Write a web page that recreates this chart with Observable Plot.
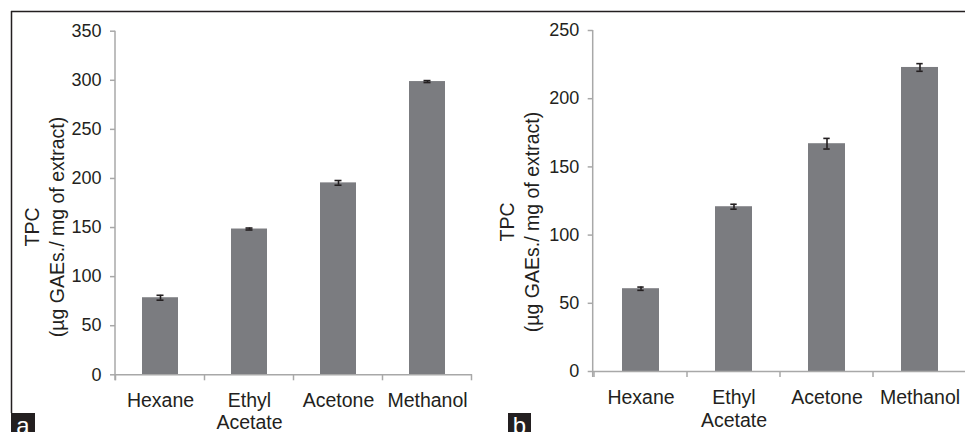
<!DOCTYPE html>
<html>
<head>
<meta charset="utf-8">
<script src="https://cdn.jsdelivr.net/npm/d3@7"></script>
<script src="https://cdn.jsdelivr.net/npm/@observablehq/plot@0.6"></script>
<style>
  html, body { margin: 0; padding: 0; background: #fff; }
  #wrap { position: relative; width: 965px; height: 432px; overflow: hidden; background: #fff; font-family: "Liberation Sans", Arial, sans-serif; }
  #wrap > svg, #wrap > figure { position: absolute; top: 0; margin: 0; }
  .tag { position: absolute; top: 413px; height: 19px; background: #231f20; color: #fff; font-size: 24px; line-height: 19px; overflow: hidden; font-family: "Liberation Sans", Arial, sans-serif; }
  .tag span { position: relative; top: 3px; display: block; text-align: center; }
</style>
</head>
<body>
<div id="wrap"></div>
<script>
// ---- data ----
const categories = ["Hexane", "Ethyl Acetate", "Acetone", "Methanol"];
const tickLabels = ["Hexane", "Ethyl\nAcetate", "Acetone", "Methanol"];
const tpcA = [78.5, 148.5, 195.5, 298.7];
const errA = [2.5, 1.0, 2.4, 1.0];
const tpcB = [60.7, 120.8, 167.0, 222.9];
const errB = [1.2, 1.8, 3.9, 2.8];
const yTicksA = [0, 50, 100, 150, 200, 250, 300, 350];
const yTicksB = [0, 50, 100, 150, 200, 250];
const yTitle = "TPC\n(µg GAEs./ mg of extract)";
const panelTags = ["a", "b"];

const BAR = "#7b7c80";
const AXIS = "#a8a8a8";
const INK = "#231f20";
const FONT = "'Liberation Sans', Arial, sans-serif";

function boundaryTicks(index, scales, values, dims) {
  const sx = scales.x, sy = scales.y;
  const bw = typeof sx.bandwidth === "function" ? sx.bandwidth() : 0;
  const centers = categories.map(c => sx(c) + bw / 2);
  const step = centers[1] - centers[0];
  const y0 = sy(0);
  const g = d3.create("svg:g");
  const xs = centers.map(c => c - step / 2).concat([centers[centers.length - 1] + step / 2]);
  g.selectAll("line.bt").data(xs).join("line")
    .attr("x1", d => d).attr("x2", d => d)
    .attr("y1", y0).attr("y2", y0 + 6)
    .attr("stroke", AXIS).attr("stroke-width", 1.5);
  const yTop = sy(sy.domain ? sy.domain()[1] : 0);
  g.append("line")
    .attr("x1", dims.marginLeft).attr("x2", dims.marginLeft)
    .attr("y1", yTop).attr("y2", y0 + 6)
    .attr("stroke", AXIS).attr("stroke-width", 1.5);
  return g.node();
}

function panel({values, errs, yTicks, yMax, width, marginLeft, marginTop, marginBottom, marginRight, capInset, titleDx, titleDy, xPad}) {
  const data = categories.map((c, i) => ({cat: c, v: values[i], e: errs[i]}));
  return Plot.plot({
    width, height: 432,
    marginLeft, marginTop, marginBottom, marginRight,
    style: {background: "transparent", fontFamily: FONT, fontSize: "18px", color: INK},
    x: {domain: categories, paddingInner: 0.6, paddingOuter: 0.3, axis: null},
    y: {domain: [0, yMax], axis: null},
    marks: [
      Plot.barY(data, {x: "cat", y: "v", fill: BAR}),
      Plot.ruleY([0], {stroke: AXIS, strokeWidth: 1.5}),
      boundaryTicks,
      Plot.axisY({ticks: yTicks, tickSize: 5, tickPadding: 9, stroke: AXIS, strokeWidth: 1.5, fill: INK, fontSize: 18, label: null, tickFormat: d => String(d)}),
      Plot.axisX({tickSize: 0, tickPadding: xPad, fill: INK, fontSize: 19.5, lineHeight: 1.16, label: null,
        tickFormat: d => tickLabels[categories.indexOf(d)]}),
      Plot.ruleX(data, {x: "cat", y1: d => d.v - d.e, y2: d => d.v + d.e, stroke: INK, strokeWidth: 1.6}),
      Plot.tickY(data, {x: "cat", y: d => d.v - d.e, stroke: INK, strokeWidth: 1.6, insetLeft: capInset, insetRight: capInset}),
      Plot.tickY(data, {x: "cat", y: d => d.v + d.e, stroke: INK, strokeWidth: 1.6, insetLeft: capInset, insetRight: capInset}),
      Plot.text([yTitle], {frameAnchor: "left", text: d => d, rotate: -90, textAnchor: "middle", lineAnchor: "middle",
        lineHeight: 1.3, fontSize: 19.5, fill: INK, dx: titleDx, dy: titleDy})
    ]
  });
}

const wrap = document.getElementById("wrap");

const a = panel({values: tpcA, errs: errA, yTicks: yTicksA, yMax: 350, width: 480,
  marginLeft: 115, marginTop: 30.7, marginBottom: 57.7, marginRight: 8, capInset: 14.5, titleDx: -72, titleDy: 24, xPad: 16});
a.style.left = "0px";
wrap.appendChild(a);

const b = panel({values: tpcB, errs: errB, yTicks: yTicksB, yMax: 250, width: 488,
  marginLeft: 112.7, marginTop: 30, marginBottom: 61, marginRight: 0, capInset: 15.3, titleDx: -75, titleDy: 21, xPad: 16.5});
b.style.left = "480px";
wrap.appendChild(b);

// frame border lines (top & left)
const ov = d3.create("svg").attr("width", 965).attr("height", 432)
  .style("position", "absolute").style("left", "0px").style("top", "0px").style("pointer-events", "none");
ov.append("line").attr("x1", 11).attr("x2", 965).attr("y1", 11.5).attr("y2", 11.5).attr("stroke", INK).attr("stroke-width", 1.5);
ov.append("line").attr("x1", 11.5).attr("x2", 11.5).attr("y1", 11).attr("y2", 413).attr("stroke", INK).attr("stroke-width", 1.5);
wrap.appendChild(ov.node());

// panel tags
const tagPos = [{left: 11, width: 24}, {left: 508, width: 23}];
panelTags.forEach((t, i) => {
  const d = document.createElement("div");
  d.className = "tag";
  d.style.left = tagPos[i].left + "px";
  d.style.width = tagPos[i].width + "px";
  const s = document.createElement("span");
  s.textContent = t;
  d.appendChild(s);
  wrap.appendChild(d);
});
</script>
</body>
</html>
